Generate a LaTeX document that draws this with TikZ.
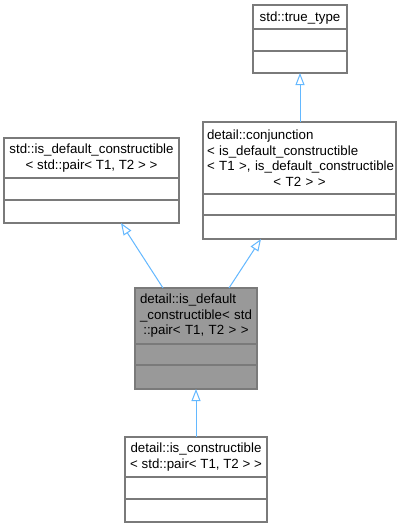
\documentclass[tikz,border=0pt]{standalone}
\usepackage{fontspec}
\setmainfont{Liberation Sans}
\usetikzlibrary{arrows.meta,calc}
\definecolor{boxline}{HTML}{7A7A7A}
\definecolor{hilite}{HTML}{999999}
\definecolor{inharrow}{HTML}{63B8FF}
\tikzset{
  cls/.style={draw=boxline, line width=1.2pt, rectangle, inner sep=0pt, outer sep=0pt, anchor=north west},
  divider/.style={draw=boxline, line width=1.2pt},
  lbl/.style={inner sep=0pt, font=\fontsize{13.3pt}{15.5pt}\selectfont, align=center},
  inh/.style={draw=inharrow, line width=1pt, -{Triangle[open, length=12pt, width=9pt]}}
}
\newcommand{\lft}[2]{\makebox[#1][l]{#2}}
\begin{document}
\begin{tikzpicture}[x=1pt, y=-1pt]
\useasboundingbox[fill=white] (0,0) rectangle (402,528);
% std::true_type
\node[cls, minimum width=94, minimum height=68] (tt) at (253,5) {};
\draw[divider] ([yshift=-24pt]tt.north west) -- ([yshift=-24pt]tt.north east);
\draw[divider] ([yshift=-46pt]tt.north west) -- ([yshift=-46pt]tt.north east);
\node[lbl] (ttL) at ($(tt.north)+(0,13)$) {std::true\_type};
% std::is_default_constructible
\node[cls, minimum width=175, minimum height=85] (sd) at (4,138) {};
\draw[divider] ([yshift=-40pt]sd.north west) -- ([yshift=-40pt]sd.north east);
\draw[divider] ([yshift=-62pt]sd.north west) -- ([yshift=-62pt]sd.north east);
\node[lbl] (sdL) at ($(sd.north)+(0,20)$) {std::is\_default\_constructible\\{}< std::pair< T1, T2 > >};
% detail::conjunction
\node[cls, minimum width=193, minimum height=117] (cj) at (203,122) {};
\draw[divider] ([yshift=-72pt]cj.north west) -- ([yshift=-72pt]cj.north east);
\draw[divider] ([yshift=-93pt]cj.north west) -- ([yshift=-93pt]cj.north east);
\node[lbl, text width=185pt] (cjL) at ($(cj.north)+(0,36)$) {\lft{185pt}{detail::conjunction}\\\lft{185pt}{< is\_default\_constructible}\\\lft{185pt}{< T1 >, is\_default\_constructible}\\{}< T2 > >};
% detail::is_default_constructible (highlighted)
\node[cls, fill=hilite, minimum width=122, minimum height=101] (gr) at (135,288) {};
\draw[divider] ([yshift=-56pt]gr.north west) -- ([yshift=-56pt]gr.north east);
\draw[divider] ([yshift=-77pt]gr.north west) -- ([yshift=-77pt]gr.north east);
\node[lbl, text width=112pt] (grL) at ($(gr.north)+(0,28)$) {\lft{112pt}{detail::is\_default}\\\lft{112pt}{\_constructible< std}\\::pair< T1, T2 > >};
% detail::is_constructible
\node[cls, minimum width=142, minimum height=85] (ic) at (125,437) {};
\draw[divider] ([yshift=-40pt]ic.north west) -- ([yshift=-40pt]ic.north east);
\draw[divider] ([yshift=-62pt]ic.north west) -- ([yshift=-62pt]ic.north east);
\node[lbl] (icL) at ($(ic.north)+(0,20)$) {detail::is\_constructible\\{}< std::pair< T1, T2 > >};
% inheritance arrows
\draw[inh] (tt.south |- cj.north) -- (tt.south);
\draw[inh] ($(gr.north west)+(28,0)$) -- ($(sd.south west)+(117,0)$);
\draw[inh] ($(gr.north west)+(94,0)$) -- ($(cj.south west)+(58,0)$);
\draw[inh] (ic.north) -- (gr.south);
\end{tikzpicture}
\end{document}
